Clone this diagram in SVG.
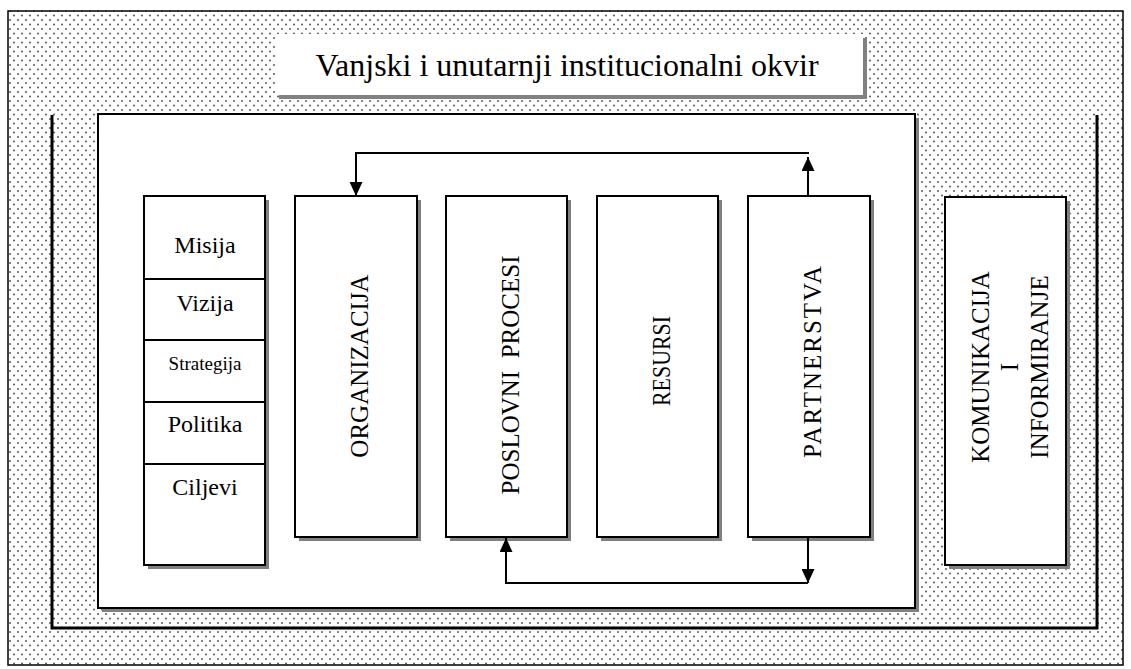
<svg xmlns="http://www.w3.org/2000/svg" width="1131" height="669" viewBox="0 0 1131 669">
<style>
.box{fill:#fff;stroke:#000;stroke-width:2}
.sh{fill:#808080}
.t{font-family:"Liberation Serif","Times New Roman",serif;fill:#000}
.lbl{font-size:24px;text-anchor:middle}
.vl{font-size:25px;text-anchor:middle}
.con{fill:none;stroke:#000;stroke-width:2}
.br{fill:none;stroke:#000;stroke-width:3}
</style>
<defs>
<pattern id="dots" width="8" height="9" patternUnits="userSpaceOnUse">
<rect width="8" height="9" fill="#fff"/>
<circle cx="2" cy="2" r="1.1" fill="#666"/>
<circle cx="6" cy="6.5" r="1.1" fill="#666"/>
</pattern>
<marker id="ah" viewBox="0 0 14 13" refX="14" refY="6.5" markerWidth="14" markerHeight="13" markerUnits="userSpaceOnUse" orient="auto">
<path d="M0,0 L14,6.5 L0,13 Z" fill="#000"/>
</marker>
</defs>
<rect width="1131" height="669" fill="#fff"/>
<rect id="frame" x="8" y="11" width="1115" height="654" fill="url(#dots)" stroke="#000" stroke-width="1.5"/>

<g id="title">
<rect class="sh" x="279" y="38" width="588" height="61"/>
<rect x="275" y="34" width="588" height="61" fill="#fff"/>
<text class="t" x="567" y="76" font-size="32" text-anchor="middle">Vanjski i unutarnji institucionalni okvir</text>
</g>

<g id="bracket">
<path class="br" d="M52,115 V628 H1097 V115"/>
</g>

<g id="inner">
<rect class="sh" x="102" y="118" width="817" height="494"/>
<rect class="box" x="98" y="114" width="817" height="494"/>
</g>

<g id="misija-column">
<rect class="sh" x="148" y="200" width="121" height="369"/>
<rect class="box" x="144" y="196" width="121" height="369"/>
<line x1="144" y1="279" x2="265" y2="279" stroke="#000" stroke-width="2"/>
<line x1="144" y1="340" x2="265" y2="340" stroke="#000" stroke-width="2"/>
<line x1="144" y1="402" x2="265" y2="402" stroke="#000" stroke-width="2"/>
<line x1="144" y1="464" x2="265" y2="464" stroke="#000" stroke-width="2"/>
<text class="t lbl" x="205" y="253">Misija</text>
<text class="t lbl" x="205" y="311">Vizija</text>
<text class="t" x="205" y="370" font-size="19" text-anchor="middle">Strategija</text>
<text class="t lbl" x="205" y="432">Politika</text>
<text class="t lbl" x="205" y="495">Ciljevi</text>
</g>

<g id="organizacija">
<rect class="sh" x="299" y="200" width="122" height="341"/>
<rect class="box" x="295" y="196" width="122" height="341"/>
<text class="t vl" transform="translate(368,366) rotate(-90)">ORGANIZACIJA</text>
</g>

<g id="poslovni-procesi">
<rect class="sh" x="450" y="200" width="121" height="341"/>
<rect class="box" x="446" y="196" width="121" height="341"/>
<text class="t vl" transform="translate(519,375) rotate(-90)" xml:space="preserve">POSLOVNI  PROCESI</text>
</g>

<g id="resursi">
<rect class="sh" x="601" y="200" width="121" height="341"/>
<rect class="box" x="597" y="196" width="121" height="341"/>
<text class="t vl" transform="translate(670,361) rotate(-90)" textLength="90" lengthAdjust="spacingAndGlyphs">RESURSI</text>
</g>

<g id="partnerstva">
<rect class="sh" x="752" y="200" width="122" height="341"/>
<rect class="box" x="748" y="196" width="122" height="341"/>
<text class="t vl" transform="translate(821,362) rotate(-90)" textLength="192" lengthAdjust="spacing">PARTNERSTVA</text>
</g>

<g id="komunikacija">
<rect class="sh" x="949" y="201" width="121" height="368"/>
<rect class="box" x="945" y="197" width="121" height="368"/>
<text class="t vl" transform="translate(989,367) rotate(-90)">KOMUNIKACIJA</text>
<text class="t vl" transform="translate(1018,367) rotate(-90)">I</text>
<text class="t vl" transform="translate(1048,367) rotate(-90)">INFORMIRANJE</text>
</g>

<g id="connectors">
<path class="con" d="M808,196 V157" marker-end="url(#ah)"/>
<path class="con" d="M809,153 H356 V196" marker-end="url(#ah)"/>
<path class="con" d="M808,537 V583" marker-end="url(#ah)"/>
<path class="con" d="M808,583 H506 V538" marker-end="url(#ah)"/>
</g>
</svg>
